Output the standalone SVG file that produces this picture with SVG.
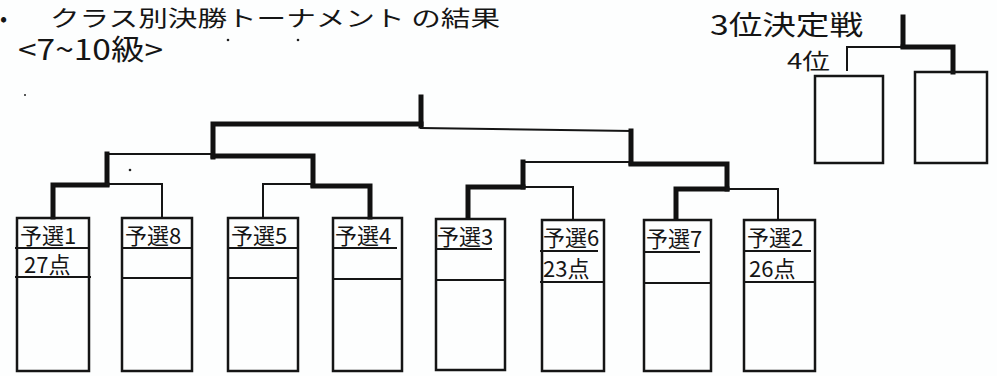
<svg xmlns="http://www.w3.org/2000/svg" width="997" height="376" viewBox="0 0 997 376">
<style>
.t{font-family:"Noto Sans CJK JP","Noto Sans",sans-serif;fill:#151515}
.box{fill:none;stroke:#151515;stroke-width:2.5;stroke-linejoin:miter}
.sep{stroke:#151515;stroke-width:2.2}
.thin{fill:none;stroke:#151515;stroke-width:2;stroke-linecap:square}
.thick{fill:none;stroke:#111;stroke-width:5;stroke-linecap:square;stroke-linejoin:miter}
.lbl{font-size:22px}
.dot{fill:#222}
</style>
<rect width="997" height="376" fill="#fdfefe"/>

<g id="title">
<text class="t" x="0" y="26" font-size="21">•</text>
<text class="t" x="50" y="26" font-size="22" textLength="450" lengthAdjust="spacingAndGlyphs">クラス別決勝トーナメント の結果</text>
<text class="t" x="18" y="60" font-size="28" textLength="145" lengthAdjust="spacingAndGlyphs">&lt;7~10級&gt;</text>
</g>

<g id="specks">
<circle class="dot" cx="228" cy="40" r="1.3"/>
<circle class="dot" cx="298" cy="40" r="1.3"/>
<circle class="dot" cx="130" cy="170" r="1.3"/>
<circle class="dot" cx="25" cy="95" r="1"/>
</g>

<g id="connectors">
<!-- final -->
<path class="thick" d="M421,97 V126"/>
<path class="thick" d="M213,157 V124 H421"/>
<path class="thin" d="M421,128 L631,131"/>
<path class="thick" d="M631,131 V163"/>
<!-- semifinal left -->
<path class="thin" d="M107,154 H213"/>
<path class="thick" d="M213,156 H313 V185"/>
<path class="thick" d="M107,154 V184"/>
<!-- semifinal right -->
<path class="thin" d="M523,162 H631"/>
<path class="thick" d="M631,164 H727 V189"/>
<path class="thick" d="M523,162 V187"/>
<!-- QF1 -->
<path class="thick" d="M53,217 V185 H107"/>
<path class="thin" d="M107,184 H162 V217"/>
<!-- QF2 -->
<path class="thin" d="M263,217 V184 H313"/>
<path class="thick" d="M313,186 H370 V217"/>
<!-- QF3 -->
<path class="thick" d="M468,217 V187 H523"/>
<path class="thin" d="M523,187 H573 V218"/>
<!-- QF4 -->
<path class="thick" d="M676,218 V189 H727"/>
<path class="thin" d="M727,189 H778 V218"/>
<!-- 3rd place -->
<path class="thick" d="M903,17 V46"/>
<path class="thin" d="M847,70 V47 H903"/>
<path class="thick" d="M903,47 H953 V72"/>
</g>

<g id="third-label">
<text class="t" x="710" y="35" font-size="27" textLength="153" lengthAdjust="spacingAndGlyphs">3位決定戦</text>
<text class="t" x="787" y="69" font-size="22" textLength="43" lengthAdjust="spacingAndGlyphs">4位</text>
</g>

<g id="place4">
<rect class="box" x="815" y="76" width="68" height="87"/>
</g>
<g id="place3">
<rect class="box" x="915" y="72" width="72" height="91"/>
</g>

<g id="team1">
<rect class="box" x="17" y="218" width="72" height="153"/>
<line class="sep" x1="15" y1="248" x2="89" y2="248"/>
<line class="sep" x1="15" y1="277" x2="91" y2="277"/>
<text class="t lbl" x="20" y="244">予選1</text>
<text class="t lbl" x="24" y="273">27点</text>
</g>
<g id="team8">
<rect class="box" x="122" y="218" width="70" height="153"/>
<line class="sep" x1="122" y1="248" x2="192" y2="248"/>
<line class="sep" x1="122" y1="278" x2="192" y2="278"/>
<text class="t lbl" x="125" y="244">予選8</text>
</g>
<g id="team5">
<rect class="box" x="228" y="218" width="70" height="153"/>
<line class="sep" x1="228" y1="248" x2="298" y2="248"/>
<line class="sep" x1="228" y1="278" x2="298" y2="278"/>
<text class="t lbl" x="231" y="244">予選5</text>
</g>
<g id="team4">
<rect class="box" x="333" y="218" width="69" height="153"/>
<line class="sep" x1="333" y1="248" x2="397" y2="248"/>
<line class="sep" x1="333" y1="279" x2="402" y2="279"/>
<text class="t lbl" x="335" y="244">予選4</text>
</g>
<g id="team3">
<rect class="box" x="436" y="219" width="69" height="151"/>
<line class="sep" x1="436" y1="249" x2="492" y2="249"/>
<line class="sep" x1="436" y1="280" x2="505" y2="280"/>
<text class="t lbl" x="437" y="245">予選3</text>
</g>
<g id="team6">
<rect class="box" x="542" y="220" width="62" height="151"/>
<line class="sep" x1="540" y1="251" x2="598" y2="251"/>
<line class="sep" x1="540" y1="282" x2="604" y2="282"/>
<text class="t lbl" x="543" y="246">予選6</text>
<text class="t lbl" x="543" y="277">23点</text>
</g>
<g id="team7">
<rect class="box" x="644" y="220" width="67" height="151"/>
<line class="sep" x1="644" y1="252" x2="700" y2="252"/>
<line class="sep" x1="644" y1="283" x2="711" y2="283"/>
<text class="t lbl" x="646" y="247">予選7</text>
</g>
<g id="team2">
<rect class="box" x="744" y="220" width="71" height="151"/>
<line class="sep" x1="744" y1="251" x2="811" y2="251"/>
<line class="sep" x1="744" y1="282" x2="815" y2="282"/>
<text class="t lbl" x="747" y="246">予選2</text>
<text class="t lbl" x="749" y="277">26点</text>
</g>
</svg>
